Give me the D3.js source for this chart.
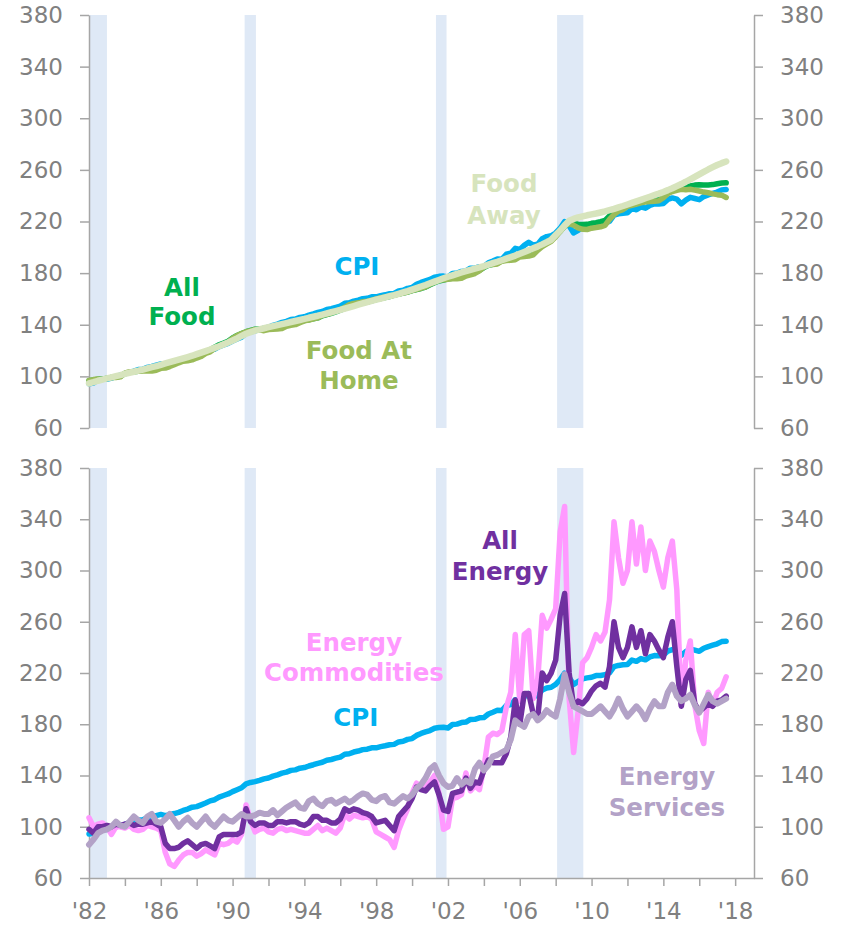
<!DOCTYPE html>
<html>
<head>
<meta charset="utf-8">
<script src="https://cdn.jsdelivr.net/npm/d3@7"></script>
<style>
  body { margin: 0; background: #fff; }
  svg text { font-family: "DejaVu Sans", Verdana, sans-serif; }
</style>
</head>
<body>
<div id="chart"></div>
<script>
// quarterly observations, first one is Q1 1982 (index, 1982-84 = 100)
var startYear = 1982;

var cpi = [
  94.3, 94.9, 97.5, 98.2,
  97.8, 98.6, 99.9, 101.0,
  101.9, 103.1, 104.1, 105.3,
  105.5, 107.0, 107.7, 108.7,
  109.6, 108.7, 109.5, 110.3,
  111.2, 112.7, 113.8, 115.3,
  115.7, 117.1, 118.5, 120.2,
  121.1, 123.1, 124.4, 125.6,
  127.4, 128.9, 130.4, 133.5,
  134.6, 135.2, 136.2, 137.4,
  138.1, 139.5, 140.5, 141.8,
  142.6, 144.0, 144.4, 145.7,
  146.2, 147.4, 148.4, 149.5,
  150.3, 151.9, 152.5, 153.5,
  154.4, 156.6, 157.0, 158.3,
  159.1, 160.2, 160.5, 161.6,
  161.6, 162.5, 163.2, 164.0,
  164.3, 166.2, 166.7, 168.2,
  168.8, 171.3, 172.8, 174.0,
  175.1, 176.9, 177.5, 177.7,
  177.1, 179.8, 180.1, 181.3,
  181.7, 183.8, 183.9, 185.0,
  185.2, 188.0, 189.4, 190.9,
  190.7, 194.6, 195.4, 199.2,
  198.3, 201.5, 203.9, 201.8,
  202.4, 206.7, 208.3, 208.9,
  211.1, 214.8, 219.9, 216.6,
  211.1, 213.2, 215.4, 216.2,
  216.7, 218.0, 218.0, 218.7,
  220.2, 224.9, 225.9, 226.4,
  226.7, 230.1, 229.1, 231.3,
  230.3, 232.5, 233.6, 233.5,
  233.9, 237.1, 238.3, 237.4,
  233.7, 236.6, 238.7, 237.8,
  236.9, 239.3, 240.6, 241.7,
  242.8, 244.5, 244.8
];

var allFood = [
  96.6, 97.3, 97.8, 97.9,
  98.6, 99.2, 99.5, 100.0,
  102.2, 103.1, 103.5, 103.9,
  104.9, 105.3, 105.6, 106.4,
  107.8, 108.2, 109.3, 110.6,
  112.0, 113.2, 113.8, 114.6,
  115.9, 117.2, 119.2, 120.5,
  122.7, 124.5, 125.8, 127.2,
  129.8, 131.7, 133.2, 134.6,
  135.6, 136.5, 136.7, 136.4,
  137.3, 137.8, 138.1, 138.5,
  139.8, 140.6, 141.0, 142.2,
  143.3, 143.9, 144.7, 145.3,
  146.9, 147.8, 148.8, 149.9,
  151.2, 152.6, 154.2, 155.3,
  156.1, 156.9, 157.6, 158.6,
  159.5, 160.3, 161.1, 161.8,
  162.9, 163.7, 164.5, 165.3,
  166.4, 167.3, 168.1, 169.2,
  171.0, 172.6, 173.9, 174.6,
  175.6, 176.1, 176.4, 176.9,
  178.5, 179.2, 180.4, 182.2,
  184.3, 186.1, 186.9, 187.6,
  189.6, 190.4, 190.9, 191.7,
  194.0, 194.8, 195.5, 196.5,
  199.6, 202.1, 204.1, 205.9,
  209.0, 212.4, 216.3, 218.6,
  218.6, 217.9, 217.7, 217.8,
  218.6, 219.1, 219.9, 220.9,
  224.4, 227.3, 229.4, 230.5,
  232.6, 233.2, 234.3, 235.4,
  236.1, 236.9, 237.3, 237.9,
  240.0, 242.5, 244.0, 245.2,
  246.6, 247.0, 247.6, 248.2,
  248.4, 248.2, 248.3, 248.6,
  249.3, 249.8, 250.0
];

var foodAtHome = [
  96.8, 97.5, 97.9, 97.7,
  98.4, 99.1, 99.2, 99.6,
  102.6, 103.6, 103.7, 103.9,
  104.2, 104.1, 104.1, 104.8,
  106.2, 106.4, 107.6, 109.0,
  110.5, 111.7, 112.1, 112.8,
  114.2, 115.4, 117.8, 119.0,
  121.6, 123.6, 124.9, 126.4,
  129.5, 131.7, 133.2, 134.6,
  135.4, 136.3, 136.1, 135.4,
  136.3, 136.6, 136.7, 137.0,
  138.8, 139.6, 140.1, 141.6,
  143.0, 143.6, 144.6, 145.3,
  147.2, 148.1, 149.2, 150.5,
  151.9, 153.5, 155.5, 156.5,
  157.0, 157.8, 158.3, 159.1,
  160.1, 160.9, 161.5, 162.1,
  163.0, 163.8, 164.6, 165.4,
  166.4, 167.4, 168.3, 169.4,
  171.4, 173.0, 174.4, 174.8,
  175.3, 175.6, 175.7, 176.0,
  177.8, 178.6, 179.7, 181.8,
  184.6, 186.5, 186.7, 187.1,
  189.2, 189.8, 190.0, 190.4,
  192.5, 192.8, 193.2, 194.2,
  197.7, 200.5, 202.6, 204.6,
  208.2, 212.3, 216.4, 218.4,
  217.1, 215.0, 213.9, 213.8,
  214.8, 215.3, 215.9, 217.0,
  221.6, 225.4, 228.1, 229.2,
  231.8, 232.6, 233.5, 234.5,
  235.0, 235.5, 235.7, 236.1,
  238.4, 241.6, 243.2, 244.2,
  244.9, 244.6, 245.0, 244.3,
  243.6, 242.8, 242.3, 241.4,
  240.8, 240.4, 238.6
];

var foodAway = [
  94.5, 95.5, 96.6, 97.5,
  98.4, 99.3, 100.2, 101.0,
  101.9, 102.8, 103.6, 104.4,
  105.3, 106.2, 107.1, 108.0,
  109.0, 110.0, 111.0, 112.0,
  113.0, 114.0, 115.0, 116.0,
  117.2, 118.4, 119.6, 120.8,
  122.1, 123.4, 124.8, 126.2,
  127.8, 129.5, 131.3, 133.0,
  134.3, 135.4, 136.4, 137.3,
  138.1, 138.9, 139.7, 140.5,
  141.3, 142.1, 142.9, 143.7,
  144.5, 145.4, 146.2, 147.0,
  147.9, 148.8, 149.7, 150.6,
  151.5, 152.5, 153.5, 154.5,
  155.5, 156.5, 157.5, 158.5,
  159.4, 160.3, 161.2, 162.1,
  163.0, 164.0, 165.0, 166.0,
  167.2, 168.4, 169.6, 170.8,
  172.1, 173.4, 174.7, 176.0,
  177.2, 178.3, 179.4, 180.5,
  181.5, 182.5, 183.5, 184.5,
  185.5, 186.6, 187.7, 188.8,
  190.0, 191.2, 192.4, 193.6,
  195.0, 196.4, 197.8, 199.2,
  200.7, 202.3, 204.0, 205.8,
  209.5, 213.0, 217.0, 220.5,
  222.0, 223.2, 224.0, 224.8,
  225.5, 226.2, 227.0, 227.8,
  228.8, 229.8, 230.9, 232.0,
  233.2, 234.4, 235.6, 236.8,
  238.0, 239.2, 240.4, 241.6,
  242.9, 244.3, 245.8, 247.4,
  249.0, 250.8, 252.7, 254.6,
  256.5, 258.4, 260.3, 262.1,
  263.8, 265.2, 266.5
];

var allEnergy = [
  98, 95, 100, 100,
  101, 100, 102, 101,
  102, 103, 101, 102,
  102, 103, 104, 102,
  100, 87, 83, 83,
  84, 87, 89, 86,
  83, 86, 87, 85,
  83, 92, 94, 94,
  94, 94, 96, 114,
  104, 101, 103, 103,
  101, 101, 104, 104,
  103, 104, 104, 102,
  101, 103, 108, 108,
  105, 105, 103, 103,
  106, 114, 112, 114,
  113, 111, 110, 108,
  103, 104, 105, 101,
  97, 108, 112, 116,
  122, 131, 129, 128,
  132, 135, 125, 113,
  112, 126, 127, 128,
  138, 130, 135, 134,
  144, 152, 150, 150,
  150, 157, 170, 199,
  180, 204, 204, 188,
  185, 220, 214, 220,
  230, 265, 282, 220,
  194, 198, 196, 200,
  206, 210, 212, 209,
  225, 260, 240, 232,
  240, 256, 240, 253,
  235, 250, 245, 238,
  232, 248, 260, 225,
  194, 215, 222, 196,
  190, 193, 196, 194,
  198, 199, 202
];

var energyCommodities = [
  107, 100, 102, 103,
  100, 94, 100, 100,
  99, 101, 98, 97,
  98, 101, 100, 99,
  97, 80, 71, 69,
  74, 78, 80, 80,
  77, 79, 82, 80,
  78, 87, 86, 87,
  90, 88, 94, 117,
  105, 96, 98, 99,
  96, 95, 98, 99,
  97, 98, 97, 96,
  95, 95, 98, 101,
  97, 99, 97, 95,
  99, 110, 106, 109,
  108, 107, 108, 106,
  96, 94, 92, 90,
  84, 97, 106, 114,
  126, 134, 130, 131,
  135, 140, 126, 98,
  100, 122, 123, 125,
  142, 128, 132, 129,
  146, 170, 173, 172,
  175, 193, 205, 250,
  198, 250, 253, 200,
  215, 265, 255, 262,
  270, 330, 350, 200,
  158, 190, 228, 232,
  240, 250, 245, 252,
  277, 338, 310, 290,
  300, 338, 305, 334,
  300, 323, 315, 300,
  287, 310, 323, 285,
  195, 230, 245, 195,
  175, 165, 205, 195,
  205, 208, 217
];

var energyServices = [
  86, 90, 95, 97,
  98, 100, 104, 101,
  100, 104, 108, 105,
  103, 108, 110, 104,
  103, 106, 110, 105,
  100, 104, 107, 103,
  100, 104, 108, 103,
  100, 104, 108, 105,
  104, 107, 110, 108,
  108, 109, 111, 110,
  110, 113, 109, 112,
  115, 117, 119, 115,
  114, 120, 122, 118,
  116, 120, 121, 118,
  120, 122, 119, 121,
  124, 126, 125, 121,
  120, 123, 124, 119,
  118, 121, 124, 122,
  125, 130, 133, 138,
  145, 148, 140, 134,
  131, 132, 138, 133,
  136, 134, 145, 150,
  144, 148, 155, 156,
  158, 160, 168, 183,
  180, 178, 186, 188,
  183, 186, 191, 188,
  186, 200, 219, 205,
  194, 192, 190, 188,
  188, 191, 194, 190,
  186, 192, 200, 192,
  186, 190, 194, 190,
  184, 192, 198, 194,
  194, 205, 211, 202,
  198, 200, 203, 195,
  189, 196, 203, 198,
  196, 198, 200
];

// recession periods, in fractional years
var recessions = [[1981.5, 1983.0], [1990.67, 1991.3], [2001.33, 2001.92], [2008.08, 2009.54]];

var yTicks = [60, 100, 140, 180, 220, 260, 300, 340, 380];
var xTicks = [1982, 1984, 1986, 1988, 1990, 1992, 1994, 1996, 1998, 2000,
              2002, 2004, 2006, 2008, 2010, 2012, 2014, 2016, 2018];
var xLabels = [1982, 1986, 1990, 1994, 1998, 2002, 2006, 2010, 2014, 2018];

function main() {
    var width = 842, height = 926;
    var svg = d3.select("#chart").append("svg")
                .attr("width", width).attr("height", height);

    var x = d3.scaleLinear().domain([1982, 2019.05]).range([89, 754]);
    var dateOf = function(i) { return startYear + i / 4; };

    var panels = [
        { top: 15, bottom: 428, xAxis: false,
          series: [
            { values: cpi, color: "#00b0f0", w: 5.5 },
            { values: allFood, color: "#00b050", w: 5.5 },
            { values: foodAtHome, color: "#9bbb59", w: 5.5 },
            { values: foodAway, color: "#d7e4bd", w: 6.5 }
          ],
          labels: [
            { lines: ["All", "Food"], at: [1987.18, 169.3, 146.8], color: "#00b050" },
            { lines: ["CPI"], at: [1996.93, 185.0], color: "#00b0f0" },
            { lines: ["Food At", "Home"], at: [1997.04, 120.4, 97.2], color: "#9bbb59" },
            { lines: ["Food", "Away"], at: [2005.12, 249.6, 225.0], color: "#d7e4bd" }
          ] },
        { top: 468, bottom: 878, xAxis: true,
          series: [
            { values: cpi, color: "#00b0f0", w: 5.5 },
            { values: energyCommodities, color: "#ff99ff", w: 5.5 },
            { values: allEnergy, color: "#7030a0", w: 5.5 },
            { values: energyServices, color: "#b3a2c7", w: 6 }
          ],
          labels: [
            { lines: ["Energy", "Commodities"], at: [1996.76, 244.4, 221.0], color: "#ff99ff" },
            { lines: ["CPI"], at: [1996.87, 185.7], color: "#00b0f0" },
            { lines: ["All", "Energy"], at: [2004.9, 323.8, 299.1], color: "#7030a0" },
            { lines: ["Energy", "Services"], at: [2014.2, 139.1, 115.6], color: "#b3a2c7" }
          ] }
    ];

    panels.forEach(function(p) {
        var y = d3.scaleLinear().domain([60, 380]).range([p.bottom, p.top]);
        var g = svg.append("g");

        // recession shading
        g.selectAll("rect.rec").data(recessions).enter().append("rect")
            .attr("class", "rec")
            .attr("x", function(d) { return x(Math.max(d[0], 1982)); })
            .attr("width", function(d) { return x(d[1]) - x(Math.max(d[0], 1982)); })
            .attr("y", p.top).attr("height", p.bottom - p.top)
            .attr("fill", "#dfe9f6");

        // axes
        var left = g.append("g").attr("transform", "translate(" + x(1982) + ",0)")
            .call(d3.axisLeft(y).tickValues(yTicks).tickSize(9).tickSizeOuter(0).tickPadding(17));
        var right = g.append("g").attr("transform", "translate(" + x.range()[1] + ",0)")
            .call(d3.axisRight(y).tickValues(yTicks).tickSize(9).tickSizeOuter(0).tickPadding(17));
        var axes = [left, right];
        if (p.xAxis) {
            var bottom = g.append("g").attr("transform", "translate(0," + p.bottom + ")")
                .call(d3.axisBottom(x).tickValues(xTicks).tickSize(8).tickSizeOuter(0).tickPadding(17)
                    .tickFormat(function(d) { return xLabels.indexOf(d) >= 0 ? "'" + String(d).slice(2) : ""; }));
            axes.push(bottom);
        }
        axes.forEach(function(a) {
            a.select(".domain").attr("stroke", "#a6a6a6").attr("stroke-width", 1.5);
            a.selectAll(".tick line").attr("stroke", "#a6a6a6").attr("stroke-width", 1.5);
            a.selectAll(".tick text").attr("fill", "#808080")
                .style("font-size", "23px");
        });

        // lines
        var line = d3.line()
            .x(function(d, i) { return x(dateOf(i)); })
            .y(function(d) { return y(d); });
        g.selectAll("path.series").data(p.series).enter().append("path")
            .attr("class", "series")
            .attr("d", function(d) { return line(d.values); })
            .attr("fill", "none")
            .attr("stroke", function(d) { return d.color; })
            .attr("stroke-width", function(d) { return d.w; })
            .attr("stroke-linejoin", "round")
            .attr("stroke-linecap", "round");

        // series labels
        p.labels.forEach(function(l) {
            l.lines.forEach(function(t, i) {
                g.append("text")
                    .attr("x", x(l.at[0]))
                    .attr("y", y(l.at[i + 1]))
                    .attr("dy", "0.36em")
                    .attr("text-anchor", "middle")
                    .attr("fill", l.color)
                    .style("font-size", "24.5px")
                    .style("font-weight", "bold")
                    .text(t);
            });
        });
    });
}
main();
</script>
</body>
</html>
